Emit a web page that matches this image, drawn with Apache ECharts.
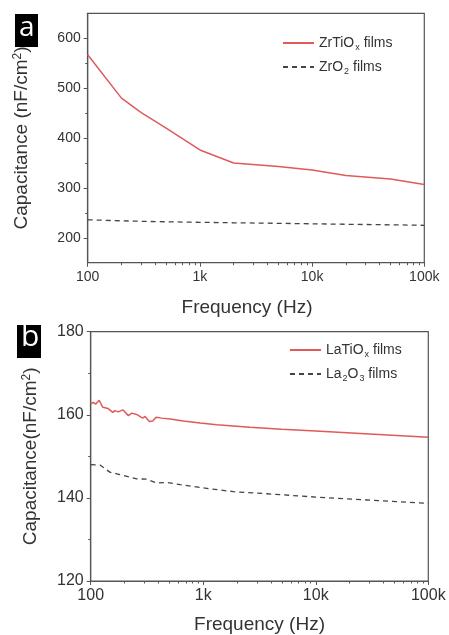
<!DOCTYPE html>
<html>
<head>
<meta charset="utf-8">
<title>Capacitance vs Frequency</title>
<script src="https://cdn.jsdelivr.net/npm/echarts@6/dist/echarts.min.js"></script>
<style>
  html, body { margin: 0; padding: 0; background: #fff; }
  #chart { width: 449px; height: 635px; }
</style>
</head>
<body>
<div id="chart"></div>
<script>
// Panel a: ZrTiOx vs ZrO2
const freqA = [100, 200, 300, 500, 1000, 2000, 5000, 10000, 20000, 50000, 100000];
const zrTiOx = [567, 480, 451, 420, 376, 350, 343, 336, 325, 318, 307];
const zrO2 = [236, 234, 233, 232, 231, 230, 229, 228, 227, 226, 225];

// Panel b: LaTiOx vs La2O3
const freqLaTi = [100, 105, 111, 119, 128, 143, 157, 164, 176, 193, 216, 232, 260, 290, 304, 332, 356, 381, 428, 508, 667, 938, 1320, 2600, 5000, 10000, 30000, 100000];
const laTiOx = [162.6, 163.0, 162.6, 163.5, 161.8, 161.5, 160.6, 161.0, 160.7, 161.2, 159.8, 160.4, 160.0, 159.2, 159.6, 158.4, 158.5, 159.4, 159.2, 159.0, 158.5, 158.0, 157.6, 157.0, 156.5, 156.1, 155.4, 154.6];
const freqLa2 = [100, 121, 148, 170, 202, 256, 315, 386, 474, 623, 1000, 1860, 3670, 10000, 28600, 100000];
const la2O3 = [148.0, 147.9, 146.2, 145.8, 145.3, 144.6, 144.5, 143.6, 143.7, 143.2, 142.4, 141.5, 141.0, 140.2, 139.5, 138.7];

// Axis ticks
const decadeTicks = [100, 1000, 10000, 100000];
const minorFreqTicks = [200, 300, 400, 500, 600, 700, 800, 900,
  2000, 3000, 4000, 5000, 6000, 7000, 8000, 9000,
  20000, 30000, 40000, 50000, 60000, 70000, 80000, 90000];
const yTicksA = [200, 300, 400, 500, 600];
const yMinorTicksA = [250, 350, 450, 550];

const FONT = '"Liberation Sans", Arial, sans-serif';
const AXIS_COLOR = '#555';
const TEXT_COLOR = '#333';
const RED = '#e05a5a';
const GRAY = '#444';

const freqLabel = v => (v >= 1000 ? (v / 1000) + 'k' : String(v));
const pairs = (xs, ys) => xs.map((x, i) => [x, ys[i]]);

const legendNames = {
  'ZrTiOx films': '{n|ZrTiO}{s|x}{n| films}',
  'ZrO2 films': '{n|ZrO}{s|2}{n| films}',
  'LaTiOx films': '{n|LaTiO}{s|x}{n| films}',
  'La2O3 films': '{n|La}{s|2}{n|O}{s|3}{n| films}'
};
const legendRich = {
  n: { fontFamily: FONT, fontSize: 14, color: TEXT_COLOR },
  s: { fontFamily: FONT, fontSize: 9, color: TEXT_COLOR, verticalAlign: 'bottom', padding: [9, 0, 0, 1] }
};

// Decade axis with labels 100 / 1k / 10k / 100k
function mainX(gridIndex, fontSize, gap, margin, namePad) {
  return {
    type: 'log', logBase: 10, gridIndex, min: 100, max: 100000, position: 'bottom',
    name: 'Frequency (Hz)', nameLocation: 'middle', nameGap: gap,
    nameTextStyle: { fontFamily: FONT, fontSize: 19, color: TEXT_COLOR, padding: namePad },
    axisLine: { show: true, lineStyle: { color: AXIS_COLOR, width: 1.2 } },
    axisTick: { show: true, inside: false, length: 4, customValues: decadeTicks, lineStyle: { color: AXIS_COLOR } },
    axisLabel: { customValues: decadeTicks, formatter: freqLabel, fontFamily: FONT, fontSize, color: TEXT_COLOR, margin },
    splitLine: { show: false }, minorTick: { show: false }
  };
}
// Overlay axis carrying only the 2..9 minor log ticks
function minorX(gridIndex) {
  return {
    type: 'log', logBase: 10, gridIndex, min: 100, max: 100000, position: 'bottom',
    axisLine: { show: false },
    axisTick: { show: true, inside: false, length: 2.5, customValues: minorFreqTicks, lineStyle: { color: AXIS_COLOR } },
    axisLabel: { show: false }, splitLine: { show: false }
  };
}

const option = {
  backgroundColor: '#fff',
  animation: false,
  grid: [
    { left: 87.7, top: 13.3, width: 336.6, height: 249.4, show: true, borderColor: AXIS_COLOR, borderWidth: 1.2 },
    { left: 90.7, top: 331.7, width: 337.6, height: 251, show: true, borderColor: AXIS_COLOR, borderWidth: 1.2 }
  ],
  legend: [
    {
      data: ['ZrTiOx films', 'ZrO2 films'], orient: 'vertical', left: 277, top: 31,
      itemWidth: 31, itemHeight: 14, itemGap: 8, formatter: n => legendNames[n],
      itemStyle: { opacity: 0 },
      textStyle: { rich: legendRich }, selectedMode: false
    },
    {
      data: ['LaTiOx films', 'La2O3 films'], orient: 'vertical', left: 284, top: 338,
      itemWidth: 31, itemHeight: 14, itemGap: 8, formatter: n => legendNames[n],
      itemStyle: { opacity: 0 },
      textStyle: { rich: legendRich }, selectedMode: false
    }
  ],
  xAxis: [
    mainX(0, 14, 36, 7, [0, 18, 0, 0]),
    minorX(0),
    mainX(1, 16, 34, 7, 0),
    minorX(1)
  ],
  yAxis: [
    {
      type: 'value', gridIndex: 0, min: 150, max: 650, position: 'left',
      name: 'Capacitance (nF/cm{sup|2})', nameLocation: 'middle', nameGap: 56, nameRotate: 90,
      nameTextStyle: {
        fontFamily: FONT, fontSize: 19, color: TEXT_COLOR,
        rich: { sup: { fontFamily: FONT, fontSize: 12, color: TEXT_COLOR, verticalAlign: 'top', padding: [0, 0, 8, 0] } }
      },
      axisLine: { show: true, lineStyle: { color: AXIS_COLOR, width: 1.2 } },
      axisTick: { show: true, length: 4, customValues: yTicksA, lineStyle: { color: AXIS_COLOR } },
      axisLabel: { customValues: yTicksA, fontFamily: FONT, fontSize: 14, color: TEXT_COLOR, margin: 7 },
      splitLine: { show: false }
    },
    {
      type: 'value', gridIndex: 0, min: 150, max: 650, position: 'left',
      axisLine: { show: false },
      axisTick: { show: true, length: 2.5, customValues: yMinorTicksA, lineStyle: { color: AXIS_COLOR } },
      axisLabel: { show: false }, splitLine: { show: false }
    },
    {
      type: 'value', gridIndex: 1, min: 120, max: 180, interval: 20, position: 'left',
      name: 'Capacitance(nF/cm{sup|2})', nameLocation: 'middle', nameGap: 50, nameRotate: 90,
      nameTextStyle: {
        fontFamily: FONT, fontSize: 19, color: TEXT_COLOR,
        rich: { sup: { fontFamily: FONT, fontSize: 12, color: TEXT_COLOR, verticalAlign: 'top', padding: [0, 0, 8, 0] } }
      },
      axisLine: { show: true, lineStyle: { color: AXIS_COLOR, width: 1.2 } },
      axisTick: { show: true, length: 4, lineStyle: { color: AXIS_COLOR } },
      minorTick: { show: true, splitNumber: 2, length: 2.5, lineStyle: { color: AXIS_COLOR } },
      axisLabel: { fontFamily: FONT, fontSize: 16, color: TEXT_COLOR, margin: 7 },
      splitLine: { show: false }, minorSplitLine: { show: false }
    }
  ],
  series: [
    {
      name: 'ZrTiOx films', type: 'line', xAxisIndex: 0, yAxisIndex: 0,
      data: pairs(freqA, zrTiOx), symbol: 'none', color: RED,
      lineStyle: { color: RED, width: 1.5 }
    },
    {
      name: 'ZrO2 films', type: 'line', xAxisIndex: 0, yAxisIndex: 0,
      data: pairs(freqA, zrO2), symbol: 'none', color: GRAY,
      lineStyle: { color: GRAY, width: 1.3, type: [5, 4] }
    },
    {
      name: 'LaTiOx films', type: 'line', xAxisIndex: 2, yAxisIndex: 2,
      data: pairs(freqLaTi, laTiOx), symbol: 'none', color: RED,
      lineStyle: { color: RED, width: 1.5 }
    },
    {
      name: 'La2O3 films', type: 'line', xAxisIndex: 2, yAxisIndex: 2,
      data: pairs(freqLa2, la2O3), symbol: 'none', color: GRAY,
      lineStyle: { color: GRAY, width: 1.3, type: [5, 4] }
    }
  ],
  graphic: [
    { type: 'rect', left: 15, top: 14, shape: { width: 23, height: 33 }, style: { fill: '#000' } },
    { type: 'text', left: 19, top: 14, style: { text: 'a', fill: '#fff', font: '28px "Open Sans", sans-serif' } },
    { type: 'rect', left: 17, top: 325, shape: { width: 24, height: 33 }, style: { fill: '#000' } },
    { type: 'text', left: 21, top: 322, style: { text: 'b', fill: '#fff', font: '30px "Open Sans", sans-serif' } }
  ]
};

const chart = echarts.init(document.getElementById('chart'), null, { renderer: 'canvas' });
chart.setOption(option);
</script>
</body>
</html>
